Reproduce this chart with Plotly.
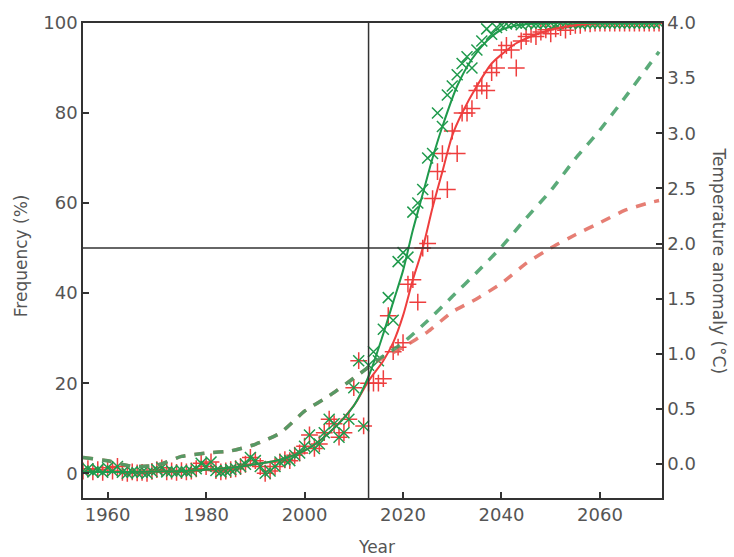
import plotly.graph_objects as go

# ---- Data ----
obs_years = list(range(1955, 2013))
obs_freq = [0.5, 1.0, 0.3, 0.8, 0.2, 1.2, 0.5, 1.5, 0.2, 0.0,
            0.3, 0.1, 0.2, 0.0, 0.4, 0.8, 1.2, 0.3, 0.5, 0.2,
            0.6, 0.3, 0.5, 1.0, 2.2, 1.5, 2.5, 0.6, 0.3, 0.5,
            0.8, 1.0, 1.5, 2.0, 3.5, 2.8, 1.5, 0.0, 0.5, 1.5,
            2.5, 3.0, 2.8, 4.0, 4.5, 6.0, 8.5, 5.5, 6.5, 9.0,
            12.0, 11.0, 8.0, 9.0, 12.0, 19.0, 25.0, 10.5]

proj_years = list(range(2013, 2073))
green_proj = [24, 27, 25, 32, 39, 34, 47, 49, 48, 58,
              60, 63, 70, 71, 80, 77, 84, 86, 88.5, 91,
              92.5, 90, 94, 96, 98.7, 97.5, 99, 99.5, 99.8, 100,
              100, 99.6, 100, 100, 99.8, 100, 100, 100, 99.7, 100,
              100, 100, 100, 99.8, 100, 100, 100, 100, 100, 100,
              100, 100, 100, 100, 100, 100, 100, 100, 100, 100]
red_proj = [20, 20, 20, 21, 35, 27, 28, 29, 42, 43,
            38, 50, 51, 61, 67, 71, 63, 76, 71, 80,
            80, 81, 85, 86, 85, 89, 90, 94, 95, 94,
            90, 96, 97, 97.5, 97, 98, 98.5, 97.6, 98.7, 99,
            98.4, 99.2, 99.5, 99.5, 100, 99.8, 100, 100, 100, 100,
            100, 100, 100, 100, 100, 100, 100, 100, 100, 100]

fit_years_g = [1955, 1960, 1965, 1970, 1975, 1980, 1985, 1990, 1995, 2000,
               2005, 2010, 2013, 2016, 2018, 2020, 2022, 2024, 2026, 2028,
               2031, 2034, 2037, 2040, 2044, 2050, 2060, 2072]
fit_green = [0.3, 0.3, 0.3, 0.4, 0.5, 0.8, 1.2, 2.0, 3.0, 5.0,
             9.0, 15.0, 21.5, 31, 38, 45, 54, 62, 70, 77,
             86, 92, 96, 98.5, 99.6, 100, 100, 100]
fit_years_r = [1955, 1960, 1965, 1970, 1975, 1980, 1985, 1990, 1995, 2000,
               2005, 2010, 2013, 2016, 2018, 2020, 2022, 2024, 2026, 2028,
               2030, 2032, 2035, 2038, 2040, 2043, 2046, 2050, 2055, 2060, 2072]
fit_red = [0.3, 0.3, 0.3, 0.4, 0.5, 0.8, 1.2, 2.0, 3.0, 5.0,
           9.0, 15.0, 20.5, 25, 29, 35, 43, 50, 59, 67,
           75, 80, 86, 91, 93, 95.5, 97, 98.5, 99.5, 100, 100]

temp_years = [1955, 1960, 1965, 1970, 1975, 1980, 1985, 1990, 1995, 2000,
              2005, 2010, 2013, 2015, 2020, 2025, 2030, 2035, 2040, 2045,
              2050, 2055, 2060, 2065, 2070, 2072]
temp_green = [0.06, 0.03, -0.02, -0.01, 0.07, 0.10, 0.12, 0.18, 0.28, 0.48,
              0.62, 0.78, 0.88, 0.95, 1.10, 1.30, 1.52, 1.74, 1.97, 2.23,
              2.48, 2.77, 3.03, 3.32, 3.62, 3.74]
temp_red = [0.06, 0.03, -0.02, -0.01, 0.07, 0.10, 0.12, 0.18, 0.28, 0.48,
            0.62, 0.78, 0.88, 0.94, 1.06, 1.20, 1.38, 1.50, 1.64, 1.82,
            1.96, 2.08, 2.19, 2.30, 2.37, 2.39]

x_ticks = [1960, 1980, 2000, 2020, 2040, 2060]
freq_ticks = [0, 20, 40, 60, 80, 100]
temp_ticks = [0.0, 0.5, 1.0, 1.5, 2.0, 2.5, 3.0, 3.5, 4.0]
ref_year = 2013
ref_freq = 50

GREEN = "#1f9a4c"
RED = "#ee3e3e"
GREEN_D = "#3f9d62"
RED_D = "#e2685c"
AX = "#333333"
TXT = "#555555"

fig = go.Figure()

# dashed temperature lines (right axis)
fig.add_trace(go.Scatter(x=temp_years, y=temp_red, yaxis="y2", mode="lines",
                         line=dict(color=RED_D, width=3.5, dash="10px,9px",
                                   shape="spline", smoothing=0.5),
                         opacity=0.85, showlegend=False))
fig.add_trace(go.Scatter(x=temp_years, y=temp_green, yaxis="y2", mode="lines",
                         line=dict(color=GREEN_D, width=3.5, dash="10px,9px",
                                   shape="spline", smoothing=0.5),
                         opacity=0.85, showlegend=False))

# markers
red_x = obs_years + proj_years
red_y = obs_freq + red_proj
green_x = obs_years + proj_years
green_y = obs_freq + green_proj
fig.add_trace(go.Scatter(x=red_x, y=red_y, mode="markers",
                         marker=dict(symbol="cross-thin", size=12,
                                     line=dict(color=RED, width=1.5)),
                         showlegend=False))
fig.add_trace(go.Scatter(x=green_x, y=green_y, mode="markers",
                         marker=dict(symbol="x-thin", size=11,
                                     line=dict(color=GREEN, width=1.5)),
                         showlegend=False))

# fitted curves
fig.add_trace(go.Scatter(x=fit_years_r, y=fit_red, mode="lines",
                         line=dict(color=RED, width=2, shape="spline", smoothing=0.8),
                         showlegend=False))
fig.add_trace(go.Scatter(x=fit_years_g, y=fit_green, mode="lines",
                         line=dict(color=GREEN, width=2, shape="spline", smoothing=0.8),
                         showlegend=False))

# reference lines
fig.add_shape(type="line", xref="x", yref="paper", x0=ref_year, x1=ref_year, y0=0, y1=1,
              line=dict(color=AX, width=1.5), layer="above")
fig.add_shape(type="line", xref="paper", yref="y", x0=0, x1=1, y0=ref_freq, y1=ref_freq,
              line=dict(color=AX, width=1.5), layer="above")

tickfont = dict(family="DejaVu Sans, sans-serif", size=18, color=TXT)

fig.update_layout(
    width=734, height=557,
    margin=dict(l=83, r=72, t=21, b=59),
    paper_bgcolor="white", plot_bgcolor="white",
    xaxis=dict(range=[1955, 2072.6], tickvals=x_ticks, ticks="inside", ticklen=6,
               tickcolor=AX, tickwidth=1.5, showline=True, linecolor=AX, linewidth=1.5,
               mirror=True, showgrid=False, zeroline=False, tickfont=tickfont),
    yaxis=dict(range=[-5.5, 100], tickvals=freq_ticks, ticks="inside", ticklen=6,
               tickcolor=AX, tickwidth=1.5, showline=True, linecolor=AX, linewidth=1.5,
               showgrid=False, zeroline=False, tickfont=tickfont),
    yaxis2=dict(range=[-0.307, 4.0], tickvals=temp_ticks, tickformat=".1f",
                ticks="inside", ticklen=6, tickcolor=AX, tickwidth=1.5,
                showline=True, linecolor=AX, linewidth=1.5, side="right",
                overlaying="y", showgrid=False, zeroline=False, tickfont=tickfont),
)

titlefont = dict(family="DejaVu Sans, sans-serif", size=17, color=TXT)
fig.add_annotation(text="Year", xref="paper", yref="paper", x=0.507, y=-0.104,
                   xanchor="center", yanchor="middle", showarrow=False, font=titlefont)
fig.add_annotation(text="Frequency (%)", xref="paper", yref="paper", x=-0.108, y=0.51,
                   xanchor="center", yanchor="middle", textangle=-90, showarrow=False,
                   font=titlefont)
fig.add_annotation(text="Temperature anomaly (°C)", xref="paper", yref="paper", x=1.1,
                   y=0.5, xanchor="center", yanchor="middle", textangle=90, showarrow=False,
                   font=titlefont)

fig.write_html("out.html")
